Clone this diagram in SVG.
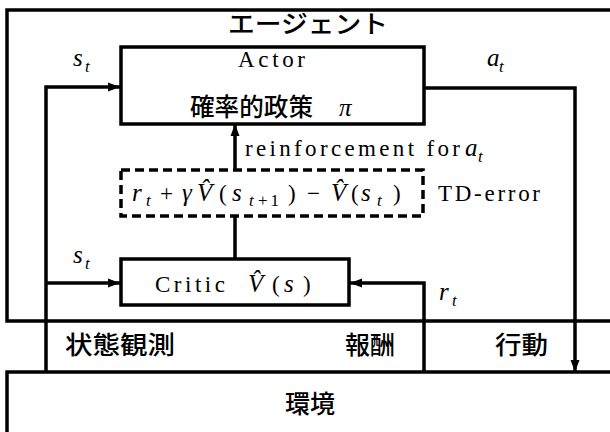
<svg xmlns="http://www.w3.org/2000/svg" width="610" height="432" viewBox="0 0 610 432">
<style>
.box{fill:none;stroke:#000;stroke-width:3.5}
.dash{fill:none;stroke:#000;stroke-width:3.5;stroke-dasharray:9 5}
.ln{fill:none;stroke:#000;stroke-width:3.5}
.jp{font-family:"Noto Sans CJK JP","Noto Sans",sans-serif;font-size:25px;font-weight:500;fill:#000}
.rm{font-family:"Liberation Serif","DejaVu Serif",serif;font-size:23px;fill:#000}
.it{font-family:"Liberation Serif","DejaVu Serif",serif;font-style:italic;font-size:25px;fill:#000}
.sub{font-family:"Liberation Serif","DejaVu Serif",serif;font-style:italic;font-size:17px;fill:#000}
.subr{font-family:"Liberation Serif","DejaVu Serif",serif;font-size:17px;fill:#000}
</style>
<defs>
<marker id="ah" markerUnits="userSpaceOnUse" markerWidth="13" markerHeight="10" refX="12" refY="5" orient="auto">
<path d="M0,0.5 L12,5 L0,9.5 z" fill="#000"/>
</marker>
</defs>
<rect width="610" height="432" fill="#fff"/>

<g id="agent">
<path class="box" d="M615 10 H7 V321 H615"/>
<text class="jp" x="228" y="33" textLength="160" lengthAdjust="spacingAndGlyphs">エージェント</text>
</g>

<g id="environment">
<path class="box" d="M615 372 H7 V440"/>
<text class="jp" x="285" y="413" textLength="50" lengthAdjust="spacingAndGlyphs">環境</text>
</g>

<g id="actor">
<rect class="box" x="121" y="47" width="303" height="77"/>
<text class="rm" x="238" y="67" textLength="67" lengthAdjust="spacing">Actor</text>
<text class="jp" x="190" y="116" textLength="123" lengthAdjust="spacingAndGlyphs">確率的政策</text>
<text class="it" x="339" y="116" font-size="20">π</text>
</g>

<g id="td-error">
<rect class="dash" x="121" y="170" width="302" height="46"/>
<text class="it" x="132" y="201">r</text>
<text class="sub" x="146" y="206">t</text>
<text class="rm" x="160" y="201" font-size="25">+</text>
<text class="it" x="182" y="201">γ</text>
<text class="it" x="197" y="201">V&#x302;</text>
<text class="rm" x="219" y="201" font-size="25">(</text>
<text class="it" x="232" y="201">s</text>
<text class="sub" x="249" y="206">t</text>
<text class="subr" x="258" y="206" letter-spacing="3">+1</text>
<text class="rm" x="288" y="201" font-size="25">)</text>
<text class="rm" x="307" y="201" font-size="25">−</text>
<text class="it" x="331" y="201">V&#x302;</text>
<text class="rm" x="351" y="201" font-size="25">(</text>
<text class="it" x="361" y="201">s</text>
<text class="sub" x="377" y="206">t</text>
<text class="rm" x="393" y="201" font-size="25">)</text>
<text class="rm" x="438" y="201" textLength="102" lengthAdjust="spacing">TD-error</text>
</g>

<g id="critic">
<rect class="box" x="121" y="259" width="228" height="46"/>
<text class="rm" x="155" y="292" textLength="70" lengthAdjust="spacing">Critic</text>
<text class="it" x="248" y="292">V&#x302;</text>
<text class="rm" x="272" y="292" font-size="25">(</text>
<text class="it" x="284" y="292">s</text>
<text class="rm" x="303" y="292" font-size="25">)</text>
</g>

<g id="connectors">
<path class="ln" d="M46 373 V87 H120" marker-end="url(#ah)"/>
<path class="ln" d="M46 283 H120" marker-end="url(#ah)"/>
<path class="ln" d="M424 373 V283 H350" marker-end="url(#ah)"/>
<path class="ln" d="M424 88 H575 V372" marker-end="url(#ah)"/>
<path class="ln" d="M235 259 V216"/>
<path class="ln" d="M235 170 V124" marker-end="url(#ah)"/>
</g>

<g id="labels">
<text class="it" x="73" y="66">s</text>
<text class="sub" x="85" y="72">t</text>
<text class="it" x="73" y="263">s</text>
<text class="sub" x="85" y="269">t</text>
<text class="it" x="487" y="66">a</text>
<text class="sub" x="499" y="72">t</text>
<text class="it" x="439" y="300">r</text>
<text class="sub" x="452" y="306">t</text>
<text class="rm" x="245" y="156" textLength="215" lengthAdjust="spacing">reinforcement for</text>
<text class="it" x="465" y="156">a</text>
<text class="sub" x="478" y="162">t</text>
<text class="jp" x="65" y="354" textLength="110" lengthAdjust="spacingAndGlyphs">状態観測</text>
<text class="jp" x="345" y="354" textLength="50" lengthAdjust="spacingAndGlyphs">報酬</text>
<text class="jp" x="495" y="354" textLength="53" lengthAdjust="spacingAndGlyphs">行動</text>
</g>
</svg>
